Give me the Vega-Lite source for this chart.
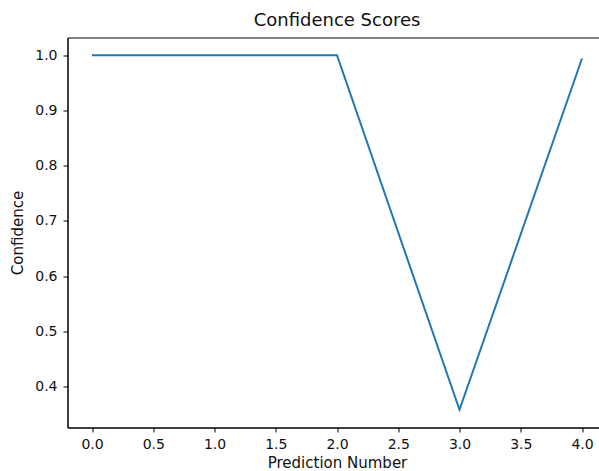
{
  "$schema": "https://vega.github.io/schema/vega-lite/v6.json",
  "autosize": "none",
  "width": 539,
  "height": 390,
  "padding": {"left": 67.5, "top": 37.5, "right": 0, "bottom": 43.5},
  "background": "white",
  "config": {
    "font": "DejaVu Sans",
    "view": {"stroke": "black", "strokeWidth": 1},
    "axis": {
      "grid": false,
      "domainColor": "black",
      "tickColor": "black",
      "tickSize": 4.5,
      "labelFontSize": 14,
      "labelColor": "#111",
      "labelFont": "DejaVu Sans",
      "titleFont": "DejaVu Sans",
      "titleFontSize": 15,
      "titleFontWeight": "normal",
      "titleColor": "#111"
    },
    "title": {"font": "DejaVu Sans", "fontSize": 18, "fontWeight": "normal", "color": "#111"}
  },
  "title": {"text": "Confidence Scores", "offset": 8},
  "data": {
    "values": [
      {"prediction": 0, "confidence": 1.0},
      {"prediction": 1, "confidence": 1.0},
      {"prediction": 2, "confidence": 1.0},
      {"prediction": 3, "confidence": 0.358},
      {"prediction": 4, "confidence": 0.994}
    ]
  },
  "mark": {"type": "line", "color": "#1f77b4", "strokeWidth": 2},
  "encoding": {
    "x": {
      "field": "prediction",
      "type": "quantitative",
      "title": "Prediction Number",
      "scale": {"domain": [-0.2, 4.2], "nice": false, "zero": false},
      "axis": {"values": [0, 0.5, 1, 1.5, 2, 2.5, 3, 3.5, 4], "format": ".1f", "labelPadding": 5, "titlePadding": 4}
    },
    "y": {
      "field": "confidence",
      "type": "quantitative",
      "title": "Confidence",
      "scale": {"domain": [0.3259, 1.0321], "nice": false, "zero": false},
      "axis": {"values": [0.4, 0.5, 0.6, 0.7, 0.8, 0.9, 1.0], "format": ".1f", "labelPadding": 6, "titlePadding": 9}
    }
  }
}
